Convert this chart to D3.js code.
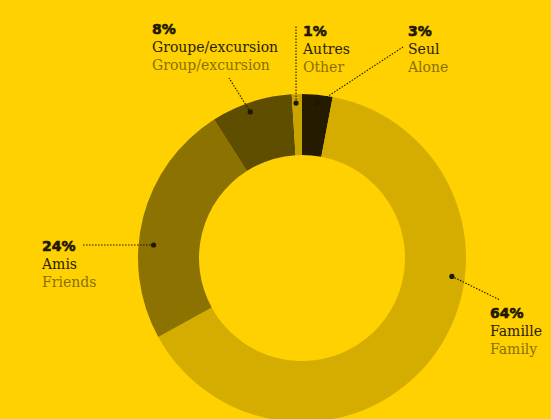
<!DOCTYPE html>
<html><head><meta charset="utf-8">
<script src="https://cdn.jsdelivr.net/npm/d3@7"></script>
<style>
html,body{margin:0;padding:0;background:#FFD100;}
svg{display:block;}
</style></head>
<body>
<script>
// Data
const categoriesFr = ["Seul", "Famille", "Amis", "Groupe/excursion", "Autres"];
const categoriesEn = ["Alone", "Family", "Friends", "Group/excursion", "Other"];
const percents = [3, 64, 24, 8, 1];
const sliceColors = ["#241b00", "#d4ad00", "#8c7200", "#5f4d00", "#c9a300"];

// Layout (label anchors; angle in degrees, label position in pixels)
const labelLayout = [
  {angle: 5.4,  r: 155, lx: 408, ly: 36, ex: 403, ey: 47},
  {angle: 97,   r: 151, lx: 490, ly: 318, ex: 500, ey: 300},
  {angle: 275,  r: 149, lx: 42,  ly: 251, ex: 83,  ey: 245},
  {angle: 340.5,r: 155, lx: 152, ly: 34, ex: 229, ey: 78},
  {angle: 357.8,r: 155, lx: 303, ly: 36, ex: 296, ey: 25}
];

const W = 551, H = 419;
const cx = 302, cy = 258, outerR = 164, innerR = 103;

const svg = d3.select("body").append("svg").attr("width", W).attr("height", H);
svg.append("rect").attr("width", W).attr("height", H).attr("fill", "#FFD100");

const data = percents.map((v, i) => ({fr: categoriesFr[i], en: categoriesEn[i], v, color: sliceColors[i], lay: labelLayout[i]}));

const pie = d3.pie().value(d => d.v).sort(null).startAngle(0).endAngle(2 * Math.PI);
const arc = d3.arc().innerRadius(innerR).outerRadius(outerR);

const g = svg.append("g").attr("transform", `translate(${cx},${cy})`);
g.selectAll("path.slice").data(pie(data)).join("path")
  .attr("class", "slice")
  .attr("d", arc)
  .attr("fill", d => d.data.color);

// Leader lines and dots
data.forEach(d => {
  const a = d.lay.angle * Math.PI / 180;
  const px = cx + d.lay.r * Math.sin(a);
  const py = cy - d.lay.r * Math.cos(a);
  svg.append("line")
    .attr("x1", px).attr("y1", py).attr("x2", d.lay.ex).attr("y2", d.lay.ey)
    .attr("stroke", "#1e1800").attr("stroke-width", 1.1)
    .attr("stroke-dasharray", "1.5,1.5");
  svg.append("circle").attr("cx", px).attr("cy", py).attr("r", 2.6).attr("fill", "#1e1800");
});

// Labels
data.forEach(d => {
  const t = svg.append("g").attr("transform", `translate(${d.lay.lx},${d.lay.ly})`);
  t.append("text").attr("x", 0).attr("y", 0)
    .attr("font-family", "'DejaVu Sans', sans-serif").attr("font-weight", 900)
    .attr("font-size", 14).attr("fill", "#1e1800")
    .attr("stroke", "#1e1800").attr("stroke-width", 0.6)
    .text(d.v + "%");
  t.append("text").attr("x", 0).attr("y", 18)
    .attr("font-family", "'DejaVu Serif', serif")
    .attr("font-size", 14).attr("fill", "#2a2200").text(d.fr);
  t.append("text").attr("x", 0).attr("y", 36)
    .attr("font-family", "'DejaVu Serif', serif")
    .attr("font-size", 14).attr("fill", "#8a7000").text(d.en);
});
</script>
</body></html>
